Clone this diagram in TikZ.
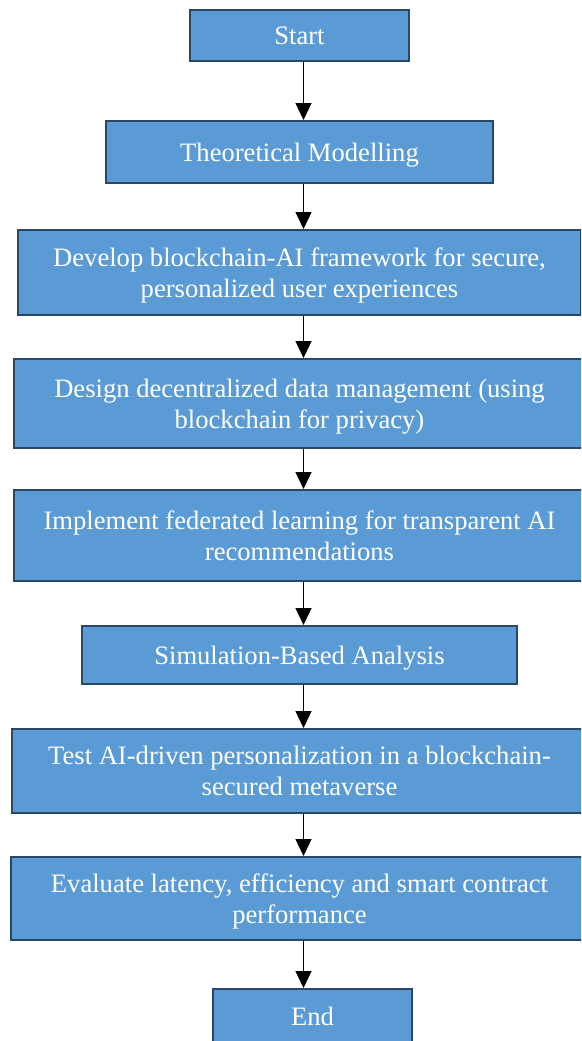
\documentclass[tikz,border=0pt]{standalone}
\usepackage{fontspec}
\setmainfont{Liberation Serif}
\usepackage{tikz}
\usetikzlibrary{arrows.meta}

\definecolor{boxfill}{HTML}{5B9BD5}
\definecolor{boxline}{HTML}{2B4766}

\tikzset{
  stepbox/.style={draw=boxline,line width=2pt,fill=boxfill,text=white,
    align=center,inner sep=0pt,text depth=0pt,font=\fontsize{26.6}{31}\selectfont},
  flow/.style={-{Triangle[width=16pt,length=17pt]},line width=1.3pt,black}
}

\begin{document}
\begin{tikzpicture}[x=1pt,y=-1pt]
  \clip (0,0) rectangle (581,1041);
  \useasboundingbox (0,0) rectangle (581,1041);
  \fill[white] (0,0) rectangle (581,1041);
  % boxes
  \node [stepbox,minimum width=219pt,minimum height=51pt] (start) at (299.5,35.5) {Start};
  \node [stepbox,minimum width=387pt,minimum height=62pt] (model) at (299.5,152) {Theoretical Modelling};
  \node [stepbox,minimum width=563pt,minimum height=85pt] (frame) at (299.5,272.5)
    {Develop blockchain-AI framework for secure,\\personalized user experiences};
  \node [stepbox,minimum width=571pt,minimum height=89pt] (data) at (299.5,403.5)
    {Design decentralized data management (using\\blockchain for privacy)};
  \node [stepbox,minimum width=571pt,minimum height=91pt] (fedl) at (299.5,535.5)
    {Implement federated learning for transparent AI\\recommendations};
  \node [stepbox,minimum width=435pt,minimum height=58pt] (simu) at (299.5,655) {Simulation-Based Analysis};
  \node [stepbox,minimum width=575pt,minimum height=84pt] (test) at (299.5,771)
    {Test AI-driven personalization in a blockchain-\\secured metaverse};
  \node [stepbox,minimum width=577pt,minimum height=83pt] (eval) at (299.5,898.5)
    {Evaluate latency, efficiency and smart contract\\performance};
  \node [stepbox,minimum width=199pt,minimum height=55pt] (end) at (312.5,1016.5) {End};
  % arrows
  \draw [flow] ([xshift=4pt]start.south) -- ([xshift=4pt]start.south |- model.north);
  \draw [flow] ([xshift=4pt]model.south) -- ([xshift=4pt]model.south |- frame.north);
  \draw [flow] ([xshift=4pt]frame.south) -- ([xshift=4pt]frame.south |- data.north);
  \draw [flow] ([xshift=4pt]data.south) -- ([xshift=4pt]data.south |- fedl.north);
  \draw [flow] ([xshift=4pt]fedl.south) -- ([xshift=4pt]fedl.south |- simu.north);
  \draw [flow] ([xshift=4pt]simu.south) -- ([xshift=4pt]simu.south |- test.north);
  \draw [flow] ([xshift=4pt]test.south) -- ([xshift=4pt]test.south |- eval.north);
  \draw [flow] ([xshift=4pt]eval.south) -- ([xshift=4pt]eval.south |- end.north);
\end{tikzpicture}
\end{document}
